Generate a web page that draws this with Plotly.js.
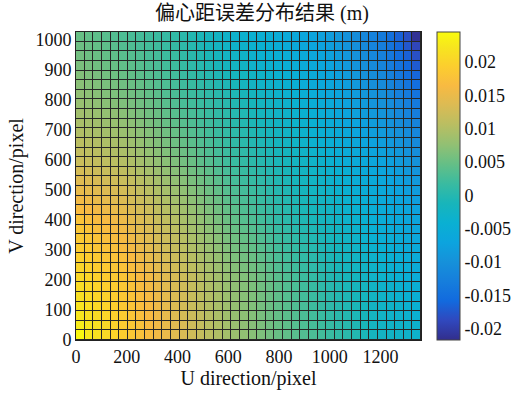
<!DOCTYPE html>
<html>
<head>
<meta charset="utf-8">
<script src="https://cdn.plot.ly/plotly-3.0.1.min.js"></script>
<style>html,body{margin:0;padding:0;background:#fff;}#chart{width:524px;height:393px;}</style>
</head>
<body>
<div id="chart"></div>
<script>
// Cell edges in image pixel coordinates
const uEdges = [0,34,68,102,136,170,204,238,272,306,340,374,408,442,476,510,544,578,612,646,680,714,748,782,816,850,884,918,952,986,1020,1054,1088,1122,1156,1190,1224,1258,1292,1326,1360];
const vEdges = [0,32,64,96,128,160,192,224,256,288,320,352,384,416,448,480,512,544,576,608,640,672,704,736,768,800,832,864,896,928,960,992,1024];

// Eccentricity error per cell, in units of 0.1 mm (rows bottom -> top)
const errorRows01mm = [
[242,225,217,209,201,192,184,175,167,158,150,141,133,124,116,107,99,90,83,76,70,63,56,49,44,39,34,29,23,17,11,5,-2,-9,-16,-21,-24,-26,-28,-32],
[229,221,214,206,198,190,183,174,166,157,149,140,132,123,115,106,98,89,82,75,69,62,55,48,42,37,31,26,20,14,8,2,-5,-11,-18,-23,-26,-29,-31,-35],
[224,217,210,203,196,189,181,172,164,155,147,138,130,121,113,104,96,87,80,73,67,60,53,46,40,35,29,23,17,11,5,-1,-7,-13,-19,-24,-28,-31,-34,-38],
[220,213,207,200,194,187,179,170,162,153,145,136,128,119,111,102,94,85,78,71,65,58,51,44,38,33,27,20,14,8,2,-4,-9,-15,-21,-26,-30,-33,-37,-41],
[215,209,203,197,191,185,178,169,161,152,144,135,127,118,110,101,93,84,77,70,64,57,50,43,36,31,24,18,11,5,-1,-6,-12,-18,-23,-28,-32,-36,-40,-44],
[211,205,200,194,189,183,176,167,159,150,142,133,125,116,108,99,91,82,75,68,62,55,48,41,34,29,22,15,8,2,-4,-9,-14,-19,-25,-30,-34,-38,-43,-47],
[206,201,196,191,186,181,174,165,157,148,140,131,123,114,106,97,89,80,73,66,60,53,46,39,32,26,19,12,5,-1,-7,-12,-17,-22,-27,-32,-36,-41,-46,-50],
[201,196,191,186,181,176,169,160,152,143,135,126,118,109,101,92,84,75,68,61,55,48,41,34,27,22,15,8,2,-4,-10,-15,-20,-25,-30,-35,-39,-44,-49,-53],
[196,191,186,181,176,171,164,155,147,138,130,121,113,104,96,87,79,70,63,56,50,43,36,29,23,17,11,5,-2,-7,-13,-18,-23,-28,-33,-38,-42,-47,-52,-56],
[191,186,181,176,171,166,159,150,142,133,125,116,108,99,91,82,74,65,58,51,45,38,31,24,18,13,7,1,-5,-10,-16,-21,-26,-31,-36,-41,-45,-50,-55,-59],
[187,182,177,172,167,162,155,146,138,129,121,112,104,95,87,78,70,61,54,47,41,34,27,20,14,9,3,-3,-8,-14,-20,-25,-30,-35,-40,-45,-49,-54,-59,-63],
[182,177,172,167,162,157,150,141,133,124,116,107,99,90,82,73,65,56,49,42,36,29,22,15,10,4,-1,-6,-12,-17,-23,-28,-33,-38,-43,-48,-52,-57,-62,-66],
[177,172,167,162,157,152,145,136,128,119,111,102,94,85,77,68,60,51,44,37,31,24,17,10,5,0,-5,-10,-15,-20,-26,-31,-36,-41,-46,-51,-55,-60,-65,-69],
[168,163,158,153,149,144,137,129,121,112,104,96,88,79,71,63,55,46,40,33,27,20,14,7,2,-3,-8,-13,-18,-23,-29,-34,-39,-44,-49,-54,-59,-64,-69,-74],
[158,154,149,145,140,136,129,121,113,105,98,89,82,73,66,57,50,41,35,29,23,16,10,4,-1,-6,-11,-16,-21,-26,-32,-37,-42,-47,-52,-57,-62,-68,-74,-79],
[149,145,141,136,132,128,122,113,106,98,91,83,75,67,60,52,45,37,31,25,19,13,6,0,-5,-10,-15,-20,-25,-30,-36,-41,-46,-51,-56,-61,-66,-72,-78,-83],
[139,136,132,127,124,119,114,106,99,91,84,76,69,61,54,47,40,32,26,20,14,9,3,-3,-8,-13,-18,-23,-28,-33,-39,-44,-49,-54,-59,-64,-70,-76,-82,-88],
[130,126,123,119,115,111,106,98,91,84,77,70,63,55,48,42,34,27,22,16,10,5,-1,-6,-11,-16,-21,-26,-31,-36,-42,-47,-52,-57,-62,-67,-73,-80,-87,-93],
[120,117,114,110,107,103,98,91,84,77,71,64,57,50,42,36,29,22,17,12,6,1,-4,-9,-14,-19,-24,-29,-34,-39,-45,-50,-55,-60,-65,-70,-77,-84,-91,-98],
[113,110,107,103,100,96,91,85,78,71,65,58,52,45,38,32,25,19,14,9,3,-2,-7,-12,-17,-22,-27,-32,-37,-43,-49,-54,-59,-64,-70,-75,-82,-89,-96,-104],
[107,104,101,97,94,90,85,79,72,66,60,53,47,40,34,28,22,15,10,5,-1,-6,-11,-16,-21,-26,-31,-36,-41,-46,-52,-57,-63,-69,-74,-80,-87,-95,-102,-110],
[100,97,94,90,87,83,79,73,67,61,55,48,42,36,30,24,18,12,7,2,-4,-9,-14,-19,-24,-29,-34,-39,-44,-49,-55,-61,-67,-73,-79,-85,-93,-100,-108,-116],
[94,91,88,84,81,77,73,67,61,55,49,43,38,32,26,21,15,9,4,-1,-7,-12,-17,-22,-27,-32,-37,-42,-47,-53,-59,-65,-71,-77,-83,-90,-98,-106,-114,-122],
[88,85,82,78,75,71,66,61,55,50,44,38,33,28,22,17,11,6,1,-4,-10,-15,-20,-25,-30,-35,-40,-45,-50,-56,-62,-69,-75,-82,-88,-95,-103,-112,-120,-129],
[81,78,75,71,68,64,60,55,50,45,39,34,28,23,18,13,8,3,-2,-7,-13,-18,-23,-28,-33,-38,-43,-48,-53,-59,-65,-72,-79,-86,-93,-100,-108,-117,-126,-135],
[76,73,70,66,63,59,55,50,45,40,34,29,24,19,14,9,4,-1,-6,-11,-17,-22,-27,-32,-37,-42,-47,-52,-57,-63,-69,-76,-83,-90,-97,-105,-114,-124,-133,-143],
[71,68,65,61,58,54,50,46,41,36,31,26,21,16,10,5,-1,-6,-11,-16,-21,-26,-30,-35,-40,-45,-50,-55,-60,-66,-72,-80,-87,-95,-102,-109,-120,-131,-142,-152],
[66,63,60,56,53,49,45,41,37,32,27,23,18,12,6,1,-5,-11,-16,-20,-25,-29,-34,-38,-43,-48,-53,-58,-63,-69,-76,-84,-91,-99,-106,-114,-126,-138,-150,-162],
[61,58,55,51,48,44,41,37,32,29,24,20,14,8,2,-4,-10,-16,-20,-24,-29,-33,-37,-41,-46,-51,-56,-61,-66,-72,-79,-87,-95,-103,-111,-119,-132,-145,-158,-171],
[56,53,50,46,43,39,36,33,28,25,20,17,11,4,-2,-8,-14,-21,-25,-28,-33,-37,-41,-44,-49,-54,-59,-64,-69,-75,-83,-91,-99,-107,-115,-124,-138,-152,-166,-181],
[52,49,46,42,39,35,32,28,24,21,17,13,8,1,-6,-13,-19,-25,-30,-33,-37,-40,-44,-48,-53,-58,-63,-68,-73,-79,-86,-95,-103,-112,-120,-129,-144,-160,-175,-190],
[48,45,42,38,35,31,28,25,21,18,14,11,5,-2,-9,-15,-22,-29,-33,-36,-40,-43,-47,-50,-55,-60,-65,-70,-75,-81,-89,-98,-106,-115,-123,-133,-149,-165,-181,-212]
];

const xTicks = [0,200,400,600,800,1000,1200];
const yTicks = [0,100,200,300,400,500,600,700,800,900,1000];
const cbTickVals = [0.02,0.015,0.01,0.005,0,-0.005,-0.01,-0.015,-0.02];
const cbTickText = ['0.02','0.015','0.01','0.005','0','-0.005','-0.01','-0.015','-0.02'];
const zMin = -0.0217, zMax = 0.0245;

const z = errorRows01mm.map(r => r.map(v => v / 10000));

const parula = [
 [0/63,'rgb(50,46,140)'],[4/63,'rgb(48,72,190)'],[8/63,'rgb(18,106,222)'],[12/63,'rgb(22,126,220)'],
 [16/63,'rgb(22,145,218)'],[20/63,'rgb(12,164,222)'],[24/63,'rgb(10,176,210)'],[28/63,'rgb(24,181,186)'],
 [32/63,'rgb(58,187,160)'],[36/63,'rgb(101,191,134)'],[40/63,'rgb(146,192,115)'],[44/63,'rgb(185,190,98)'],
 [48/63,'rgb(219,187,84)'],[52/63,'rgb(248,186,66)'],[56/63,'rgb(252,206,46)'],[60/63,'rgb(247,230,30)'],
 [1,'rgb(249,251,14)']
];

const font = 'Liberation Serif, Times New Roman, serif';

const trace = {
  type: 'heatmap',
  x: uEdges, y: vEdges, z: z,
  colorscale: parula, zmin: zMin, zmax: zMax,
  xgap: 1, ygap: 1,
  hoverinfo: 'skip',
  colorbar: {
    x: 1.046, xanchor: 'left', xpad: 0,
    y: 0.5, yanchor: 'middle', len: 1, lenmode: 'fraction', ypad: 0,
    thickness: 23, thicknessmode: 'pixels',
    outlinecolor: '#444', outlinewidth: 1,
    tickvals: cbTickVals, ticktext: cbTickText,
    ticks: '', tickfont: {family: font, size: 18, color: '#111'}
  }
};

const layout = {
  width: 524, height: 393,
  margin: {l: 76, r: 103, t: 32, b: 53, pad: 0},
  paper_bgcolor: '#fff', plot_bgcolor: '#262626',
  font: {family: font, color: '#111'},
  title: {text: '偏心距误差分布结果 (m)', font: {family: 'Liberation Serif, Noto Sans CJK SC, serif', size: 20, color: '#111'},
          x: 0.5, xref: 'container', xanchor: 'center', y: 0.967, yref: 'container', yanchor: 'middle'},
  xaxis: {range: [0,1360], tickvals: xTicks, ticktext: xTicks.map(String), ticks: '', showgrid: false, zeroline: false,
          showline: true, mirror: true, linecolor: '#222', linewidth: 1,
          tickfont: {family: font, size: 18, color: '#111'},
          title: {text: 'U direction/pixel', font: {family: font, size: 20, color: '#111'}, standoff: 3}},
  yaxis: {range: [0,1024], tickvals: yTicks, ticktext: yTicks.map(String), ticks: '', showgrid: false, zeroline: false,
          showline: true, mirror: true, linecolor: '#222', linewidth: 1,
          tickfont: {family: font, size: 18, color: '#111'},
          title: {text: 'V direction/pixel', font: {family: font, size: 20, color: '#111'}, standoff: 6}}
};

Plotly.newPlot('chart', [trace], layout, {displayModeBar: false, staticPlot: true});
</script>
</body>
</html>
